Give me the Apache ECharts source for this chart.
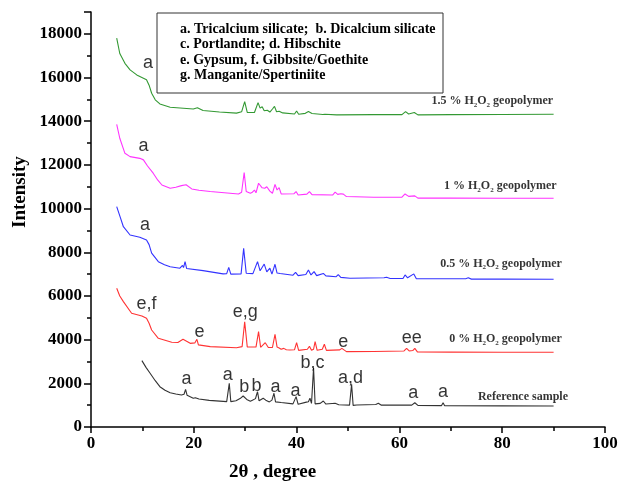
<!DOCTYPE html>
<html><head><meta charset="utf-8">
<script src="https://cdn.jsdelivr.net/npm/echarts@6/dist/echarts.min.js"></script>
<style>html,body{margin:0;padding:0;background:#fff}#c{width:621px;height:485px}</style>
</head><body><div id="c"></div>
<script>
// ---- data (2θ in degrees, intensity in counts) ----
const green15 = [[5.0,17800],[5.6,17100],[6.6,16650],[7.6,16350],[8.9,16120],[10.2,15970],[10.8,15900],[11.3,15650],[11.8,15280],[12.5,14980],[13.4,14790],[15.4,14640],[19.9,14560],[20.7,14620],[21.8,14490],[25,14420],[28.3,14370],[29.3,14430],[29.9,14900],[30.4,14400],[31.8,14400],[32.5,14850],[32.9,14600],[33.3,14660],[33.7,14480],[34.3,14500],[34.8,14420],[35.3,14560],[35.7,14680],[36.1,14430],[36.6,14460],[37.3,14380],[39.6,14330],[40.0,14470],[40.4,14320],[41.7,14360],[42.3,14440],[43.0,14350],[45.1,14310],[45.5,14320],[47.8,14290],[55,14300],[60.5,14300],[61.2,14440],[61.8,14330],[62.9,14400],[63.6,14290],[70,14300],[80,14310],[90,14320]];
const magenta1 = [[5.0,13860],[5.6,13220],[6.6,12530],[7.6,12380],[9.5,12300],[10.2,12230],[11.0,11950],[12.1,11620],[13.0,11300],[13.8,11080],[15.4,10930],[16.5,10980],[17.6,11050],[18.5,11090],[19.6,10900],[21,10840],[23.2,10780],[28.7,10670],[29.3,10750],[29.8,11650],[30.2,10780],[31.0,10700],[31.4,10750],[31.8,10850],[32.1,10720],[32.6,11160],[33.3,10950],[33.8,10930],[34.2,11000],[34.8,10800],[35.3,10700],[35.8,11110],[36.2,10850],[36.6,10960],[37.0,10670],[39.5,10680],[39.9,10780],[40.3,10620],[42.0,10660],[42.5,10780],[43.0,10640],[47.0,10620],[47.5,10750],[48.0,10650],[48.6,10680],[49.1,10660],[49.7,10550],[55,10520],[60.5,10520],[61.1,10670],[61.8,10560],[63.0,10580],[63.6,10480],[70,10480],[80,10475],[90,10475]];
const blue05 = [[5.0,10090],[5.7,9600],[6.3,9170],[7.6,8790],[9.5,8690],[10.8,8565],[11.3,8350],[11.8,7960],[13.1,7570],[14.3,7430],[15.4,7340],[17.3,7270],[17.8,7400],[18.0,7300],[18.3,7570],[18.6,7260],[21.8,7160],[25.7,7010],[26.4,7020],[26.8,7310],[27.2,7000],[29.2,7010],[29.7,8180],[30.2,7040],[31.5,7020],[32.4,7570],[32.9,7150],[33.7,7460],[34.2,7100],[34.8,7270],[35.2,7000],[35.8,7450],[36.2,7050],[36.8,7030],[39.3,6950],[39.8,7080],[40.3,6930],[41.8,6980],[42.3,7190],[42.8,6960],[43.4,7115],[43.9,6930],[45.2,7030],[45.7,6920],[47.7,6880],[48.1,6980],[48.6,6850],[50.4,6810],[57.0,6830],[57.5,6860],[58.2,6800],[60.7,6800],[61.1,6960],[61.6,6830],[62.8,7010],[63.3,6790],[72.9,6790],[73.4,6830],[74.0,6770],[80,6770],[90,6765]];
const red0 = [[5.0,6350],[5.6,6000],[6.3,5740],[7.9,5210],[9.9,5085],[10.8,4980],[11.3,4750],[11.8,4440],[13.1,4060],[15.7,3880],[16.9,3870],[17.9,4015],[18.6,3930],[19.3,3830],[20.2,3850],[20.6,4015],[20.9,3760],[23.2,3680],[28.3,3630],[29.4,3680],[29.9,4820],[30.4,3670],[32.1,3660],[32.6,4365],[33.0,3650],[33.9,3860],[34.5,3640],[35.3,3640],[35.8,4245],[36.2,3660],[36.6,3620],[37.0,3560],[37.5,3600],[38.0,3540],[38.7,3525],[39.6,3540],[40.0,3860],[40.4,3510],[42.1,3560],[42.5,3700],[42.9,3510],[43.3,3560],[43.6,3910],[44.0,3510],[45.0,3560],[45.4,3790],[45.8,3510],[48.4,3530],[48.8,3600],[49.1,3620],[49.7,3450],[55,3460],[60.9,3480],[61.4,3600],[61.9,3480],[62.6,3500],[63.0,3600],[63.5,3440],[70,3430],[80,3425],[90,3420]];
const reference = [[9.9,3040],[10.7,2730],[11.5,2460],[12.5,2120],[13.4,1845],[14.4,1680],[15.4,1570],[16.5,1510],[17.6,1465],[18.1,1500],[18.4,1725],[18.7,1450],[19.9,1315],[20.3,1340],[20.6,1390],[21.0,1280],[23,1220],[26.4,1160],[26.7,1180],[26.9,2000],[27.2,1160],[28.2,1200],[29.0,1300],[29.6,1420],[30.3,1260],[31.0,1180],[31.4,1220],[31.7,1150],[32.0,1300],[32.2,1465],[32.4,1615],[32.7,1200],[33.0,1260],[33.5,1315],[34.0,1230],[34.7,1150],[35.2,1230],[35.6,1545],[35.9,1150],[37.0,1120],[39.3,1060],[39.9,1390],[40.3,1040],[41.9,1140],[42.3,1160],[42.6,1315],[42.9,1080],[43.1,1100],[43.3,2700],[43.6,1060],[44.6,1080],[45.2,1190],[45.7,1050],[47.5,1085],[48.2,1020],[50.3,1000],[50.7,1950],[51.0,990],[51.7,1010],[55.4,1030],[55.9,1085],[56.5,1000],[62.4,1000],[63.0,1110],[63.6,990],[68.2,980],[68.5,1110],[68.8,975],[80,965],[90,960]];

// phase letters placed above peaks: [2θ, intensity, text]
const peakLabels = [[11.1,16650,'a'],[10.2,12880,'a'],[10.5,9250,'a'],[10.8,5630,'e,f'],[21.1,4365,'e'],[30.0,5280,'e,g'],[49.1,3910,'e'],[62.4,4060,'ee'],[18.6,2185,'a'],[26.6,2380,'a'],[29.8,1820,'b'],[32.2,1880,'b'],[35.9,1845,'a'],[39.8,1660,'a'],[43.1,2915,'b,c'],[50.5,2230,'a,d'],[62.7,1545,'a'],[68.5,1615,'a']];
// series names at the right end of each trace: [2θ (right edge), intensity, rich text]
const curveNames = [[89.9,14910,'{t|1.5 % H}{s|2}{t|O}{s|2}{t| geopolymer}'],[90.6,11040,'{t|1 % H}{s|2}{t|O}{s|2}{t| geopolymer}'],[91.6,7480,'{t|0.5 % H}{s|2}{t|O}{s|2}{t| geopolymer}'],[91.6,4020,'{t|0 % H}{s|2}{t|O}{s|2}{t| geopolymer}'],[92.8,1360,'{t|Reference sample}']];
const legendLines = ['a. Tricalcium silicate;  b. Dicalcium silicate','c. Portlandite; d. Hibschite','e. Gypsum, f. Gibbsite/Goethite','g. Manganite/Spertiniite'];
const yTitle = 'Intensity';
const xTitle = '2θ , degree';

const serif = 'Liberation Serif';
const chart = echarts.init(document.getElementById('c'), null, {renderer:'canvas'});
function line(data, color){
  return {type:'line', data, showSymbol:false, symbol:'none', lineStyle:{color, width:1.1}, silent:true, animation:false, z:3};
}
const graphics = [
  {type:'text', x:11, y:228, rotation:Math.PI/2, style:{text:yTitle, fill:'#000', font:'bold 19px "Liberation Serif"'}},
  {type:'text', left:229, top:463, style:{text:xTitle, fill:'#000', font:'bold 19px "Liberation Serif"'}},
  {type:'rect', shape:{x:157, y:13, width:286, height:80}, style:{fill:'#fff', stroke:'#333', lineWidth:1}, z:10}
];
legendLines.forEach((t,i)=>graphics.push({type:'text', x:180, y:22+i*15.6, z:12, style:{text:t, fill:'#000', font:'bold 14px "Liberation Serif"'}}));
const option = {
  animation:false,
  backgroundColor:'#fff',
  grid:{left:91, right:16, top:12, bottom:58},
  xAxis:{type:'value', min:0, max:100, interval:20,
    axisLine:{lineStyle:{color:'#000', width:1.5}},
    axisTick:{show:true, length:6, lineStyle:{color:'#000', width:1.5}},
    minorTick:{show:true, splitNumber:2, length:4, lineStyle:{color:'#000', width:1.5}},
    splitLine:{show:false},
    axisLabel:{color:'#000', fontFamily:serif, fontWeight:'bold', fontSize:17, margin:8}
  },
  yAxis:{type:'value', min:0, max:19000, interval:2000,
    axisLine:{show:true, lineStyle:{color:'#000', width:1.5}},
    axisTick:{show:true, length:7, lineStyle:{color:'#000', width:1.5}},
    minorTick:{show:true, splitNumber:2, length:4, lineStyle:{color:'#000', width:1.5}},
    splitLine:{show:false},
    axisLabel:{color:'#000', fontFamily:serif, fontWeight:'bold', fontSize:17, margin:9, showMaxLabel:false, formatter:v=>String(v)}
  },
  graphic:graphics,
  series:[
    line(green15,'#339933'),
    line(magenta1,'#ff33ff'),
    line(blue05,'#3333ff'),
    line(red0,'#ff3333'),
    line(reference,'#333333'),
    {type:'scatter', data:peakLabels, symbolSize:0, silent:true, z:5,
      label:{show:true, position:'inside', formatter:p=>p.data[2], color:'#000', fontFamily:'Liberation Sans', fontSize:18}},
    {type:'scatter', data:curveNames, symbolSize:0, silent:true, z:5,
      label:{show:true, position:'left', distance:0, formatter:p=>p.data[2],
        rich:{t:{fontFamily:serif, fontWeight:'bold', fontSize:12, color:'#000'}, s:{fontFamily:serif, fontWeight:'bold', fontSize:7, color:'#000', padding:[8,0,0,0]}}}}
  ]
};
chart.setOption(option);
</script></body></html>
